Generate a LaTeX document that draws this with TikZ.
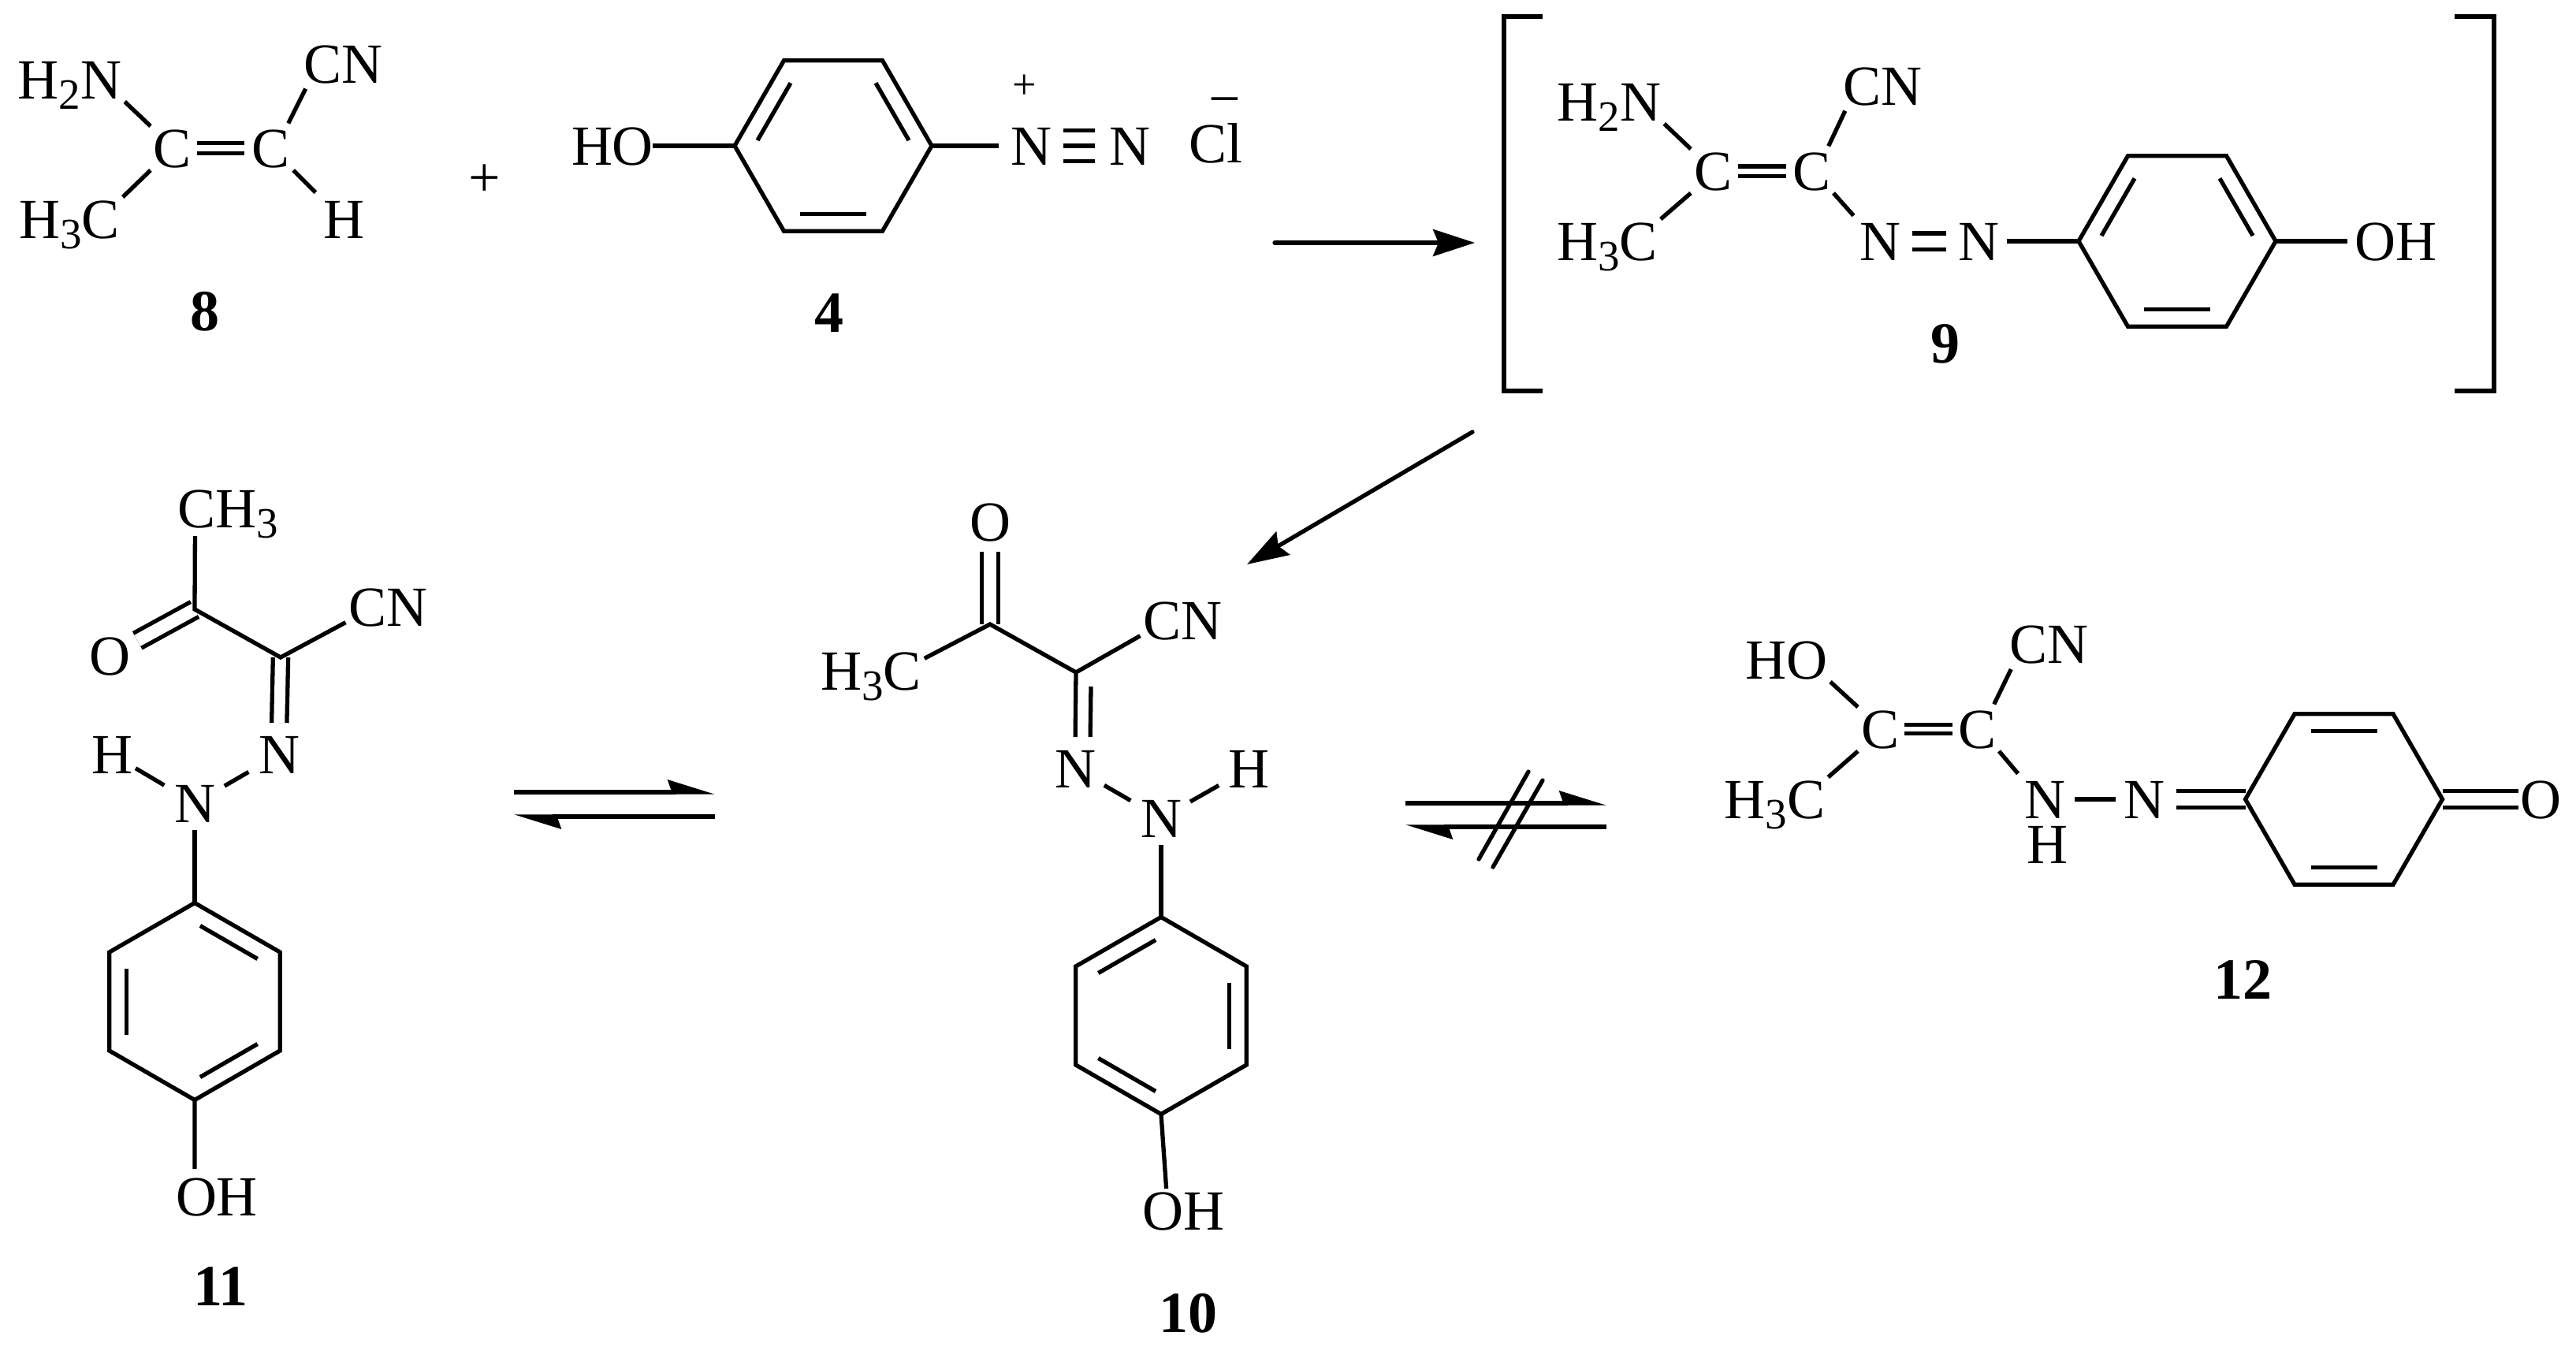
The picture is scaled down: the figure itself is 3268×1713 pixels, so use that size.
\documentclass[tikz,border=0pt]{standalone}
\usepackage{fontspec}
\setmainfont{Liberation Serif}
\usetikzlibrary{calc,arrows.meta}
\newcommand{\subsc}[1]{\raisebox{-13pt}{\fontsize{55}{55}\selectfont #1}}
\newcommand{\ringpts}[3]{%
\coordinate (#1) at #2;
\foreach \i in {1,...,6} \coordinate (#1\i) at ($(#1)+(#3+60*\i:125)$);}
\newcommand{\ringdraw}[1]{\draw (#11) -- (#12) -- (#13) -- (#14) -- (#15) -- (#16) -- cycle;}
\newcommand{\innerbond}[3]{\draw ($($(#1)!.08!(#2)$)!.2!(#3)$) -- ($($(#1)!.92!(#2)$)!.2!(#3)$);}
\tikzset{
atom/.style={anchor=base,inner sep=4pt,outer sep=0pt,text height=48pt,text depth=0pt,font=\fontsize{72}{80}\selectfont},
cpd/.style={anchor=base,inner sep=0pt,outer sep=0pt,font=\fontsize{74}{80}\selectfont\bfseries},
chg/.style={inner sep=0pt,outer sep=0pt,font=\fontsize{#1}{60}\selectfont},
dbl/.style={double,double distance=#1},
rxn/.style={line cap=round,-{Stealth[length=53pt,width=34pt,inset=7pt]}},
eqm/.style={-{Stealth[length=51pt,width=31pt,inset=5pt,harpoon]}}
}
\begin{document}
\begin{tikzpicture}[x=1pt,y=-1pt,line width=5.3pt]
\useasboundingbox (0,0) rectangle (3268,1713);

\node [atom] (h2n8) at (88.5,125) {H\subsc{2}N};
\node [atom] (cn8) at (435.5,105) {CN};
\node [atom] (h3c8) at (88,302) {H\subsc{3}C};
\node [atom] (h8) at (436,302) {H};
\node [atom] (c8a) at (219,212) {C};
\node [atom] (c8b) at (344,212) {C};
\node [cpd] (m8) at (260,419) {8};
\draw [dbl=8pt,shorten <=3pt,shorten >=6pt] (c8a.east) -- (c8b.west);
\draw (h2n8.south east) -- (c8a.north west);
\draw (h3c8.north east) -- (c8a.south west);
\draw [shorten <=4pt,shorten >=4pt] ([xshift=20pt]c8b.north) -- ([xshift=8pt]cn8.south west);
\draw [shorten >=8pt] (c8b.south east) -- (h8.north west);
\node [chg=72] (plus8) at (615,229) {+};

\ringpts{r4}{(1057,185)}{0}
\ringdraw{r4}
\innerbond{r43}{r44}{r4}
\innerbond{r45}{r46}{r4}
\innerbond{r41}{r42}{r4}
\node [atom] (ho4) at (777,209) {HO};
\node [atom] (n4a) at (1308.5,209) {N};
\node [atom] (n4b) at (1433,209) {N};
\node [atom] (cl4) at (1542.5,206) {Cl};
\node [chg=54] (plus4) at (1300,110) {+};
\node [chg=72] (minus4) at (1554,137) {−};
\node [cpd] (m4) at (1052,421) {4};
\draw [shorten <=-5pt] (ho4.east) -- (r43);
\draw [shorten >=12pt] (r46) -- (n4a.west);
\draw [dbl=34pt,shorten <=10pt,shorten >=14pt] (n4a.east) -- (n4b.west);
\draw [shorten <=10pt,shorten >=14pt] (n4a.east) -- (n4b.west);

\coordinate (a1s) at (1617,308);
\coordinate (a1e) at (1871,308);
\draw [rxn] (a1s) -- (a1e);

\draw (1957,21) -- (1908,21) -- (1908,496) -- (1957,496);
\draw (3114,21) -- (3164,21) -- (3164,496) -- (3114,496);

\node [atom] (h2n9) at (2041.5,153) {H\subsc{2}N};
\node [atom] (cn9) at (2388.5,133) {CN};
\node [atom] (h3c9) at (2039,330) {H\subsc{3}C};
\node [atom] (c9a) at (2173,241) {C};
\node [atom] (c9b) at (2298,241) {C};
\node [atom] (n9a) at (2385.5,330) {N};
\node [atom] (n9b) at (2510.5,330) {N};
\node [atom] (oh9) at (3039,330) {OH};
\node [cpd] (m9) at (2468,460) {9};
\draw [dbl=7pt,shorten <=4pt,shorten >=4pt] (c9a.east) -- (c9b.west);
\draw (h2n9.south east) -- (c9a.north west);
\draw (h3c9.north east) -- (c9a.south west);
\draw [shorten <=4pt,shorten >=4pt] ([xshift=20pt]c9b.north) -- ([xshift=8pt]cn9.south west);
\draw [shorten >=6pt] (c9b.south east) -- (n9a.north west);
\draw [dbl=15pt,shorten <=10pt,shorten >=12pt] (n9a.east) -- (n9b.west);
\ringpts{r9}{(2762,306)}{0}
\ringdraw{r9}
\innerbond{r93}{r94}{r9}
\innerbond{r95}{r96}{r9}
\innerbond{r91}{r92}{r9}
\draw [shorten <=5pt] (n9b.east) -- (r93);
\draw [shorten >=5pt] (r96) -- (oh9.west);

\node [atom] (ch11) at (289,669) {CH\subsc{3}};
\node [atom] (o11) at (139,856) {O};
\node [atom] (cn11) at (492.5,794) {CN};
\node [atom] (n11a) at (354,981) {N};
\node [atom] (h11) at (142,981) {H};
\node [atom] (n11b) at (247,1043) {N};
\node [atom] (oh11) at (275,1542) {OH};
\node [cpd] (m11) at (280,1656) {11};
\coordinate (c11a) at (247,773);
\coordinate (c11b) at (356,834);
\draw [dbl=16pt,shorten <=6pt] (o11) -- (c11a);
\draw [dbl=14pt,shorten >=12pt] (c11b) -- (n11a.north);
\draw [shorten <=7pt] (ch11.214) -- (c11a) -- (c11b) -- (cn11.200);
\draw [shorten <=10pt,shorten >=9pt] (n11a) -- (n11b);
\draw [shorten >=10pt] (h11) -- (n11b);
\ringpts{r11}{(247,1270.5)}{30}
\ringdraw{r11}
\innerbond{r114}{r115}{r11}
\innerbond{r112}{r113}{r11}
\innerbond{r111}{r116}{r11}
\draw [shorten <=6pt] (n11b.south) -- (r114);
\draw [shorten >=7pt] (r111) -- (oh11.135);

\coordinate (e1s) at (652,1005);
\coordinate (e1e) at (907,1005);
\coordinate (e2s) at (907,1036);
\coordinate (e2e) at (652,1036);
\draw [eqm] (e1s) -- (e1e);
\draw [eqm] (e2s) -- (e2e);

\node [atom] (o10) at (1256,686.5) {O};
\node [atom] (h3c10) at (1105,875) {H\subsc{3}C};
\node [atom] (cn10) at (1500.5,811) {CN};
\node [atom] (n10a) at (1364,999) {N};
\node [atom] (h10) at (1584,999) {H};
\node [atom] (n10b) at (1473,1062) {N};
\node [atom] (oh10) at (1501.5,1560) {OH};
\node [cpd] (m10) at (1507,1690) {10};
\coordinate (c10a) at (1256,792);
\coordinate (c10b) at (1365,853);
\draw [dbl=16pt,shorten <=9pt] (o10.south) -- (c10a);
\draw (h3c10.13) -- (c10a) -- (c10b) -- (cn10.200);
\draw [shorten >=12pt] (c10b) -- (n10a.north);
\draw [shorten >=12pt] ([shift={(19,18)}]c10b) -- ([shift={(19,0)}]n10a.north);
\draw [shorten <=8pt,shorten >=10pt] (n10a) -- (n10b);
\draw [shorten <=8pt,shorten >=9pt] (n10b) -- (h10);
\ringpts{r10}{(1473,1288.5)}{30}
\ringdraw{r10}
\innerbond{r104}{r103}{r10}
\innerbond{r105}{r106}{r10}
\innerbond{r101}{r102}{r10}
\draw [shorten <=6pt] (n10b.south) -- (r104);
\draw (r101) -- (oh10.128);

\coordinate (e3s) at (1783,1019);
\coordinate (e3e) at (2038,1019);
\coordinate (e4s) at (2038,1049);
\coordinate (e4e) at (1783,1049);
\coordinate (s1a) at (1939,979);
\coordinate (s1b) at (1876,1090);
\coordinate (s2a) at (1957,990);
\coordinate (s2b) at (1894,1100);
\draw [eqm] (e3s) -- (e3e);
\draw [eqm] (e4s) -- (e4e);
\draw [line cap=round] (s1a) -- (s1b);
\draw [line cap=round] (s2a) -- (s2b);

\coordinate (a2s) at (1868,548);
\coordinate (a2e) at (1582,716);
\draw [rxn] (a2s) -- (a2e);

\node [atom] (ho12) at (2266,861) {HO};
\node [atom] (cn12) at (2599,841.5) {CN};
\node [atom] (h3c12) at (2251.5,1038) {H\subsc{3}C};
\node [atom] (c12a) at (2385,949) {C};
\node [atom] (c12b) at (2508,949) {C};
\node [atom] (n12a) at (2594,1038) {N};
\node [atom,inner sep=0pt] (h12) at (2597,1095) {H};
\node [atom] (n12b) at (2720,1038) {N};
\node [atom] (o12) at (3223.5,1038) {O};
\node [cpd] (m12) at (2845,1267) {12};
\draw [dbl=6pt,shorten <=3pt,shorten >=3pt] (c12a.east) -- (c12b.west);
\draw (ho12.south east) -- (c12a.north west);
\draw (h3c12.north east) -- (c12a.south west);
\draw [shorten <=4pt,shorten >=4pt] ([xshift=20pt]c12b.north) -- ([xshift=8pt]cn12.south west);
\draw [shorten >=6pt] (c12b.south east) -- (n12a.north west);
\draw [shorten <=8pt,shorten >=6pt] (n12a.east) -- (n12b.west);
\ringpts{r12}{(2973.5,1014)}{0}
\draw [dbl=15.5pt,shorten <=11pt] (n12b.east) -- (r123);
\draw [dbl=15.5pt,shorten >=-1pt] (r126) -- (o12.west);
\ringdraw{r12}
\innerbond{r124}{r125}{r12}
\innerbond{r121}{r122}{r12}
\end{tikzpicture}
\end{document}
